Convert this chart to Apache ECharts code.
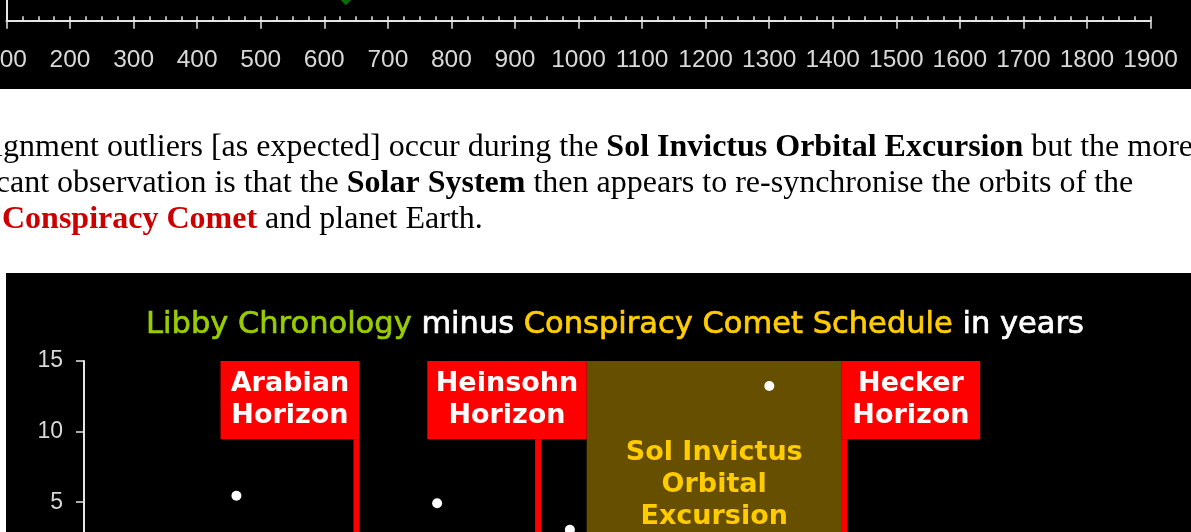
<!DOCTYPE html>
<html>
<head>
<meta charset="utf-8">
<script src="https://cdn.jsdelivr.net/npm/echarts@6/dist/echarts.min.js"></script>
<style>
  html, body { margin: 0; padding: 0; background: #fff; }
  #main { width: 1191px; height: 532px; }
</style>
</head>
<body>
<div id="main"></div>
<script>
// top timeline strip
const yearTicks = [100, 200, 300, 400, 500, 600, 700, 800, 900, 1000, 1100, 1200, 1300, 1400, 1500, 1600, 1700, 1800, 1900];
const markerYear = 634;
const markerLevel = 4.5;

// lower chart: Libby minus comet schedule (years)
const offsetTicks = [0, 5, 10, 15];
const pointYears = [460, 776, 985, 1299];
const pointOffsets = [5.46, 4.92, 3.05, 13.23];
const horizonNames = ['Arabian\nHorizon', 'Heinsohn\nHorizon', 'Hecker\nHorizon'];
const horizonYears = [649, 935, 1417];
const flagSpans = [[435, 653.5], [760.5, 1011.5], [1413, 1631]];
const flagBottom = 9.45;
const excursionName = 'Sol Invictus\nOrbital\nExcursion';
const excursionSpan = [1011.5, 1413];

const axisGrey = '#e6e6e6';
const labelFont = 'Liberation Sans';

let areas = [];
areas.push([
  { name: excursionName, xAxis: excursionSpan[0], yAxis: 0,
    itemStyle: { color: '#665000' },
    label: { show: true, position: 'insideTop', distance: 76, color: '#ffcc00' } },
  { xAxis: excursionSpan[1], yAxis: offsetTicks[3] }
]);
horizonNames.forEach(function (name, i) {
  areas.push([
    { name: name, xAxis: flagSpans[i][0], yAxis: flagBottom,
      itemStyle: { color: '#ff0000' },
      label: { show: true, position: 'inside', color: '#ffffff' } },
    { xAxis: flagSpans[i][1], yAxis: offsetTicks[3] }
  ]);
  // flag pole
  areas.push([
    { xAxis: horizonYears[i] - 4.7, yAxis: 0, itemStyle: { color: '#ff0000' }, label: { show: false } },
    { xAxis: horizonYears[i] + 4.7, yAxis: flagBottom }
  ]);
});

function titlePart(col) {
  return { font: '30.5px "DejaVu Sans"', fill: col, stroke: col, lineWidth: 0.7 };
}

let option = {
  backgroundColor: '#ffffff',
  animation: false,
  graphic: [
    { type: 'rect', z: -10, silent: true, shape: { x: 0, y: 0, width: 1191, height: 89 }, style: { fill: '#000' } },
    { type: 'rect', z: -10, silent: true, shape: { x: 6, y: 273, width: 1185, height: 259 }, style: { fill: '#000' } },
    {
      type: 'text', x: -29, y: 148, z: 10, silent: true,
      style: {
        text: '{n|alignment outliers [as expected] occur during the }{b|Sol Invictus Orbital Excursion}{n| but the more}',
        verticalAlign: 'middle',
        rich: {
          n: { font: '32px "Liberation Serif"', fill: '#000' },
          b: { font: 'bold 32px "Liberation Serif"', fill: '#000' }
        }
      }
    },
    {
      type: 'text', x: -86, y: 184, z: 10, silent: true,
      style: {
        text: '{n|significant observation is that the }{b|Solar System}{n| then appears to re-synchronise the orbits of the}',
        verticalAlign: 'middle',
        rich: {
          n: { font: '32px "Liberation Serif"', fill: '#000' },
          b: { font: 'bold 32px "Liberation Serif"', fill: '#000' }
        }
      }
    },
    {
      type: 'text', x: 2, y: 220, z: 10, silent: true,
      style: {
        text: '{r|Conspiracy Comet}{n| and planet Earth.}',
        verticalAlign: 'middle',
        rich: {
          n: { font: '32px "Liberation Serif"', fill: '#000' },
          r: { font: 'bold 32px "Liberation Serif"', fill: '#cc0000' }
        }
      }
    },
    {
      type: 'text', x: 615, y: 325, z: 10, silent: true,
      style: {
        text: '{g|Libby Chronology }{w|minus }{y|Conspiracy Comet Schedule }{w|in years}',
        align: 'center',
        verticalAlign: 'middle',
        rich: {
          g: titlePart('#99cc00'),
          w: titlePart('#ffffff'),
          y: titlePart('#ffcc00')
        }
      }
    }
  ],
  grid: [
    { left: 6.5, width: 1144, top: -29.3, height: 50, outerBoundsMode: 'none' },
    { left: 84, width: 1067, top: 361, height: 211.8, outerBoundsMode: 'none' }
  ],
  xAxis: [
    {
      gridIndex: 0, type: 'value', position: 'bottom',
      min: yearTicks[0], max: yearTicks[yearTicks.length - 1], interval: 100,
      axisLine: { show: true, lineStyle: { color: axisGrey, width: 2 } },
      axisTick: { show: true, length: 8, lineStyle: { color: axisGrey, width: 1.5 } },
      axisLabel: {
        color: '#d8d8d8', fontFamily: labelFont, fontSize: 24.5, margin: 27,
        showMinLabel: true, showMaxLabel: true,
        formatter: function (v) { return String(v); }
      },
      splitLine: { show: false }
    },
    {
      gridIndex: 0, type: 'value', position: 'bottom',
      min: yearTicks[0], max: yearTicks[yearTicks.length - 1], interval: 25,
      axisLine: { show: false },
      axisTick: { show: true, inside: true, length: 4.5, lineStyle: { color: axisGrey, width: 1.5 } },
      axisLabel: { show: false },
      splitLine: { show: false }
    },
    { gridIndex: 1, type: 'value', min: 220, max: 1900, show: false }
  ],
  yAxis: [
    {
      gridIndex: 0, type: 'value', min: 0, max: 10,
      axisLine: { show: true, lineStyle: { color: axisGrey, width: 2 } },
      axisTick: { show: false }, axisLabel: { show: false }, splitLine: { show: false }
    },
    {
      gridIndex: 1, type: 'value', min: offsetTicks[0], max: offsetTicks[3], interval: 5,
      axisLine: { show: true, lineStyle: { color: axisGrey, width: 2 } },
      axisTick: { show: true, length: 8, lineStyle: { color: axisGrey, width: 1.5 } },
      axisLabel: { color: '#d8d8d8', fontFamily: labelFont, fontSize: 23, margin: 21 },
      splitLine: { show: false }
    }
  ],
  series: [
    {
      type: 'scatter', xAxisIndex: 0, yAxisIndex: 0,
      symbol: 'diamond', symbolSize: 14,
      itemStyle: { color: '#0a8a0a' },
      data: [[markerYear, markerLevel]],
      silent: true
    },
    {
      type: 'scatter', xAxisIndex: 2, yAxisIndex: 1, z: 1,
      data: [],
      silent: true,
      markArea: {
        silent: true,
        label: {
          formatter: '{b}', fontFamily: 'DejaVu Sans', fontWeight: 'bold',
          fontSize: 27, lineHeight: 32, align: 'center'
        },
        data: areas
      }
    },
    {
      type: 'scatter', xAxisIndex: 2, yAxisIndex: 1, z: 10,
      symbol: 'circle', symbolSize: 10,
      itemStyle: { color: '#ffffff', opacity: 1 },
      data: pointYears.map(function (y, i) { return [y, pointOffsets[i]]; }),
      silent: true
    }
  ]
};

let myChart = echarts.init(document.getElementById('main'));
myChart.setOption(option);
</script>
</body>
</html>
